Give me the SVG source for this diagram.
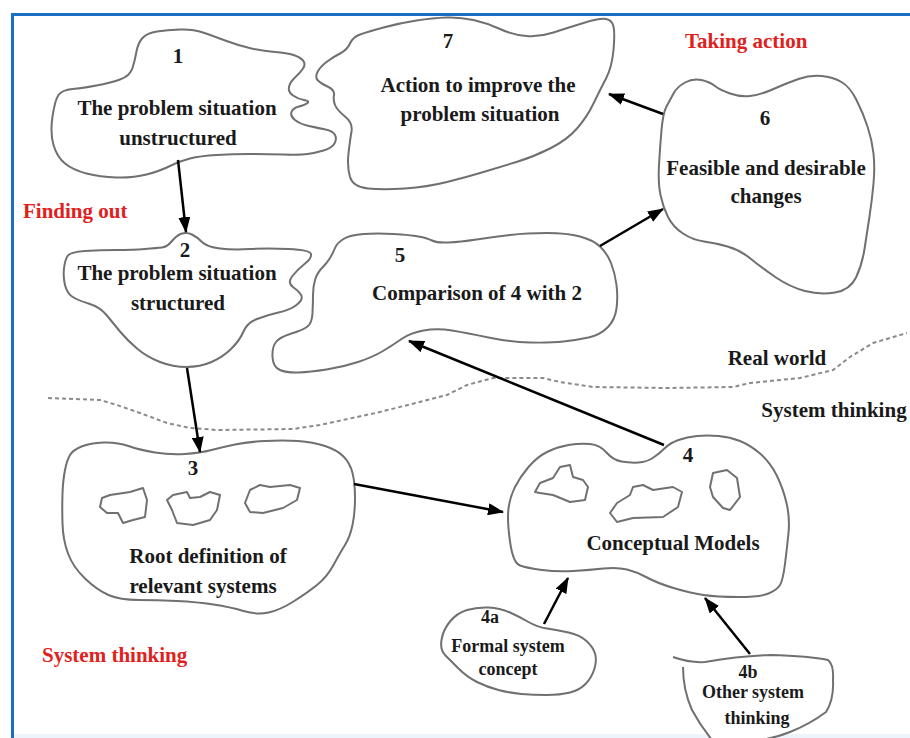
<svg xmlns="http://www.w3.org/2000/svg" width="910" height="738" viewBox="0 0 910 738">
<style>
.blob{fill:#fff;stroke:#707070;stroke-width:2;stroke-linejoin:round}
.inner{fill:none;stroke:#707070;stroke-width:2;stroke-linejoin:round}
.t{font-family:"Liberation Serif","Times New Roman",serif;font-weight:bold;font-size:21px;fill:#1a1a1a;text-anchor:middle}
.s{font-size:18px}
.red{font-family:"Liberation Serif","Times New Roman",serif;font-weight:bold;font-size:21px;fill:#e0211d}
.c{fill:none;stroke:#000;stroke-width:2.5;marker-end:url(#ah)}
.dot{fill:none;stroke:#8a8a8a;stroke-width:2;stroke-dasharray:4 3}
</style>
<defs>
<marker id="ah" markerWidth="16" markerHeight="12" refX="15" refY="6" orient="auto" markerUnits="userSpaceOnUse"><path d="M0,0 L16,6 L0,12 z" fill="#000"/></marker>
</defs>
<rect x="0" y="0" width="910" height="738" fill="#fff"/>
<rect x="13" y="734" width="897" height="4" fill="#eef4fb"/>
<path d="M12.5,738 V14.5 H910" fill="none" stroke="#1a6fc4" stroke-width="3"/>

<path class="dot" d="M48,398 L100,400 L117,405 L140,413 L167,423 L190,428 L217,430 L293,429 L320,425 L380,412 L447,395 L467,385 L493,378 L543,378 L560,382 L593,387 L667,388 L733,387 L750,383 L800,378 L833,370 L850,357 L873,343 L907,333"/>

<g id="node1">
<path class="blob" d="M136.5,51.5 Q138,43 142.5,38 Q147,33 157,31.5 Q167,30 180,29.5 Q193,29 203,32.5 Q213,36 226.5,41 Q240,46 251.5,48.5 Q263,51 275,52 Q287,53 293.5,55 Q300,57 303,60.5 Q306,64 303,68.5 Q300,73 295,77.5 Q290,82 289,87 Q288,92 293,95.5 Q298,99 304,100 Q310,101 307.5,103 Q305,105 299,106.5 Q293,108 291.5,112 Q290,116 295,120 Q300,124 309,126 Q318,128 325.5,129.5 Q333,131 335,135 Q337,139 334.5,143.5 Q332,148 323.5,150.5 Q315,153 307.5,154 Q300,155 283.5,154.5 Q267,154 250,154 Q233,154 216.5,155 Q200,156 190,158.5 Q180,161 170,166 Q160,171 146.5,174.5 Q133,178 116.5,177.5 Q100,177 86.5,173.5 Q73,170 65,163.5 Q57,157 53.5,145 Q50,133 52.5,116.5 Q55,100 58.5,95 Q62,90 72.5,89 Q83,88 96.5,85.5 Q110,83 120,79.5 Q130,76 132.5,68 Q135,60 136.5,51.5 Z"/>
<text class="t" x="178" y="63">1</text>
<text class="t" x="177" y="115">The problem situation</text>
<text class="t" x="178" y="145">unstructured</text>
</g>

<g id="node7">
<path class="blob" d="M350,43.5 Q353,37 360,34.5 Q367,32 383.5,27.5 Q400,23 416.5,20.5 Q433,18 446.5,17.5 Q460,17 473.5,20 Q487,23 500,29 Q513,35 526.5,36 Q540,37 553.5,32.5 Q567,28 583.5,23 Q600,18 606,19 Q612,20 613.5,26.5 Q615,33 613.5,50 Q612,67 606,78.5 Q600,90 593.5,103.5 Q587,117 577,128.5 Q567,140 550,148.5 Q533,157 516.5,162 Q500,167 483.5,172 Q467,177 447,182 Q427,187 405,188.5 Q383,190 368,188.5 Q353,187 350,177 Q347,167 348.5,153.5 Q350,140 351.5,131.5 Q353,123 345,116.5 Q337,110 335,105 Q333,100 334,95 Q335,90 327.5,86.5 Q320,83 317.5,80 Q315,77 317.5,72 Q320,67 326.5,62 Q333,57 340,53.5 Q347,50 350,43.5 Z"/>
<text class="t" x="448" y="48">7</text>
<text class="t" x="478" y="92">Action to improve the</text>
<text class="t" x="480" y="121">problem situation</text>
</g>

<g id="node6">
<path class="blob" d="M666.5,106.5 Q670,100 673.5,93.5 Q677,87 685,82.5 Q693,78 701.5,80 Q710,82 715,86 Q720,90 730,93.5 Q740,97 750,96 Q760,95 773.5,89 Q787,83 798.5,79 Q810,75 821.5,76 Q833,77 841.5,82 Q850,87 856.5,100 Q863,113 867.5,126.5 Q872,140 873.5,153.5 Q875,167 873.5,183.5 Q872,200 869.5,216.5 Q867,233 864.5,249 Q862,265 856,277.5 Q850,290 835,292.5 Q820,295 805,291 Q790,287 776,277.5 Q762,268 751,259 Q740,250 727.5,246.5 Q715,243 704,241.5 Q693,240 683,233.5 Q673,227 668,217 Q663,207 660.5,195 Q658,183 659,165 Q660,147 661.5,130 Q663,113 666.5,106.5 Z"/>
<text class="t" x="765" y="125">6</text>
<text class="t" x="766" y="175">Feasible and desirable</text>
<text class="t" x="766" y="203">changes</text>
</g>

<g id="node2">
<path class="blob" d="M145,249 Q157,248 162,247.5 Q167,247 172,241 Q177,235 182,233.5 Q187,232 192,234.5 Q197,237 202,242 Q207,247 220,248.5 Q233,250 250,249 Q267,248 288.5,249 Q310,250 311,254 Q312,258 304.5,264 Q297,270 292,276.5 Q287,283 293.5,287.5 Q300,292 301.5,296 Q303,300 296.5,305 Q290,310 278.5,312.5 Q267,315 257,319 Q247,323 243.5,331.5 Q240,340 231.5,348.5 Q223,357 211.5,362 Q200,367 186.5,367 Q173,367 160,362 Q147,357 137,348.5 Q127,340 120,331.5 Q113,323 106.5,315 Q100,307 88.5,303.5 Q77,300 72,296.5 Q67,293 65,285 Q63,277 64,268.5 Q65,260 67.5,256 Q70,252 85,251 Q100,250 116.5,250 Q133,250 145,249 Z"/>
<text class="t" x="185" y="257">2</text>
<text class="t" x="177" y="280">The problem situation</text>
<text class="t" x="178" y="310">structured</text>
</g>

<g id="node5">
<path class="blob" d="M335,248 Q337,243 343.5,239 Q350,235 363.5,234 Q377,233 393.5,234 Q410,235 418.5,236.5 Q427,238 432,240.5 Q437,243 448.5,242.5 Q460,242 476.5,239.5 Q493,237 510,235 Q527,233 547,233 Q567,233 580,236.5 Q593,240 600,246.5 Q607,253 611,263 Q615,273 616.5,285 Q618,297 616.5,308.5 Q615,320 607.5,327.5 Q600,335 588.5,337.5 Q577,340 563.5,341.5 Q550,343 530,342.5 Q510,342 488.5,337.5 Q467,333 452,330.5 Q437,328 423.5,330.5 Q410,333 401.5,339 Q393,345 383,351 Q373,357 358,362 Q343,367 326.5,369.5 Q310,372 298.5,372.5 Q287,373 280,370 Q273,367 272.5,357 Q272,347 276,342 Q280,337 291.5,333.5 Q303,330 307.5,326.5 Q312,323 312.5,313 Q313,303 313,295 Q313,287 315,280 Q317,273 322,268 Q327,263 330,258 Q333,253 335,248 Z"/>
<text class="t" x="400" y="262">5</text>
<text class="t" x="477" y="300">Comparison of 4 with 2</text>
</g>

<text class="t" x="777" y="365">Real world</text>
<text class="t" x="834" y="417">System thinking</text>

<g id="node3">
<path class="blob" d="M70,455 Q73,450 81.5,446.5 Q90,443 103.5,442.5 Q117,442 128.5,446 Q140,450 155,452.5 Q170,455 185,454 Q200,453 211.5,450 Q223,447 235,444.5 Q247,442 265,441 Q283,440 298,441 Q313,442 325,446 Q337,450 343.5,456.5 Q350,463 352.5,473 Q355,483 355,498 Q355,513 352.5,525 Q350,537 345,545 Q340,553 333.5,565 Q327,577 317,585 Q307,593 293.5,601.5 Q280,610 268.5,612.5 Q257,615 243.5,611 Q230,607 213.5,604.5 Q197,602 177,601 Q157,600 138.5,600 Q120,600 108.5,595 Q97,590 85,578.5 Q73,567 68,553.5 Q63,540 62.5,523.5 Q62,507 62.5,493.5 Q63,480 65,470 Q67,460 70,455 Z"/>
<path class="inner" d="M100,507 L102,498 L110,495 L130,492 L143,488 L147,500 L145,517 L133,520 L123,523 L118,513 L107,513 Z"/>
<path class="inner" d="M167,500 L173,495 L187,492 L190,498 L200,497 L210,492 L220,495 L217,510 L210,520 L193,525 L177,523 L172,510 Z"/>
<path class="inner" d="M250,490 L260,485 L270,487 L290,485 L300,488 L297,500 L283,508 L263,513 L250,512 L245,503 Z"/>
<text class="t" x="193" y="475">3</text>
<text class="t" x="208" y="563">Root definition of</text>
<text class="t" x="203" y="593">relevant systems</text>
</g>

<g id="node4">
<path class="blob" d="M510,541.5 Q507,520 508.5,508.5 Q510,497 515,487 Q520,477 528.5,467 Q537,457 547,452 Q557,447 568.5,445 Q580,443 590,444 Q600,445 606.5,452.5 Q613,460 621.5,461.5 Q630,463 638.5,462.5 Q647,462 653.5,457.5 Q660,453 665,448 Q670,443 678.5,440 Q687,437 697,436 Q707,435 718.5,436 Q730,437 740,441 Q750,445 760,453.5 Q770,462 776.5,475 Q783,488 786.5,503 Q790,518 788.5,533 Q787,548 785,564 Q783,580 780,585 Q777,590 768.5,593.5 Q760,597 738.5,597 Q717,597 703.5,595 Q690,593 673.5,588 Q657,583 647,577.5 Q637,572 627,569.5 Q617,567 603.5,568.5 Q590,570 573.5,571 Q557,572 542,570 Q527,568 520,565.5 Q513,563 510,541.5 Z"/>
<path class="inner" d="M535,492 L540,483 L553,478 L560,467 L570,465 L573,477 L583,480 L588,487 L585,500 L570,502 L553,495 L540,493 Z"/>
<path class="inner" d="M610,513 L617,503 L630,495 L633,487 L643,485 L653,490 L673,487 L682,492 L678,507 L663,517 L633,518 L617,522 Z"/>
<path class="inner" d="M713,473 L727,470 L737,478 L740,497 L730,510 L723,508 L713,497 L710,487 Z"/>
<text class="t" x="688" y="462">4</text>
<text class="t" x="673" y="550">Conceptual Models</text>
</g>

<g id="node4a">
<path class="blob" d="M441.5,640 Q443,630 450,621.5 Q457,613 467,610 Q477,607 488.5,607.5 Q500,608 510,612.5 Q520,617 528.5,622 Q537,627 547,628.5 Q557,630 568.5,632.5 Q580,635 586.5,641 Q593,647 595,653.5 Q597,660 594.5,668.5 Q592,677 586,683.5 Q580,690 570,692.5 Q560,695 546.5,695 Q533,695 521.5,694 Q510,693 498.5,690 Q487,687 477,682 Q467,677 458.5,668.5 Q450,660 445,655 Q440,650 441.5,640 Z"/>
<text class="t s" x="490" y="623">4a</text>
<text class="t s" x="508" y="652">Formal system</text>
<text class="t s" x="508" y="675">concept</text>
</g>

<g id="node4b">
<path class="blob" d="M673,657 Q690,663 705,662 Q740,656 770,655 Q810,656 828,660 Q834,665 833,680 Q834,700 826,712 Q810,724 790,732 Q775,738 760,740 L712,740 Q700,725 692,710 Q683,690 683,667"/>
<text class="t s" x="748" y="678">4b</text>
<text class="t s" x="753" y="698">Other system</text>
<text class="t s" x="757" y="724">thinking</text>
</g>

<text class="red" x="23" y="218">Finding out</text>
<text class="red" x="685" y="48">Taking action</text>
<text class="red" x="42" y="662">System thinking</text>

<g id="connectors">
<path class="c" d="M178,160 L186,232"/>
<path class="c" d="M187,368 L200,452"/>
<path class="c" d="M354,484 L503,512"/>
<path class="c" d="M664,445 L409,341"/>
<path class="c" d="M600,246 L663,209"/>
<path class="c" d="M663,114 L609,94"/>
<path class="c" d="M544,624 L568,578"/>
<path class="c" d="M750,654 L705,598"/>
</g>
</svg>
